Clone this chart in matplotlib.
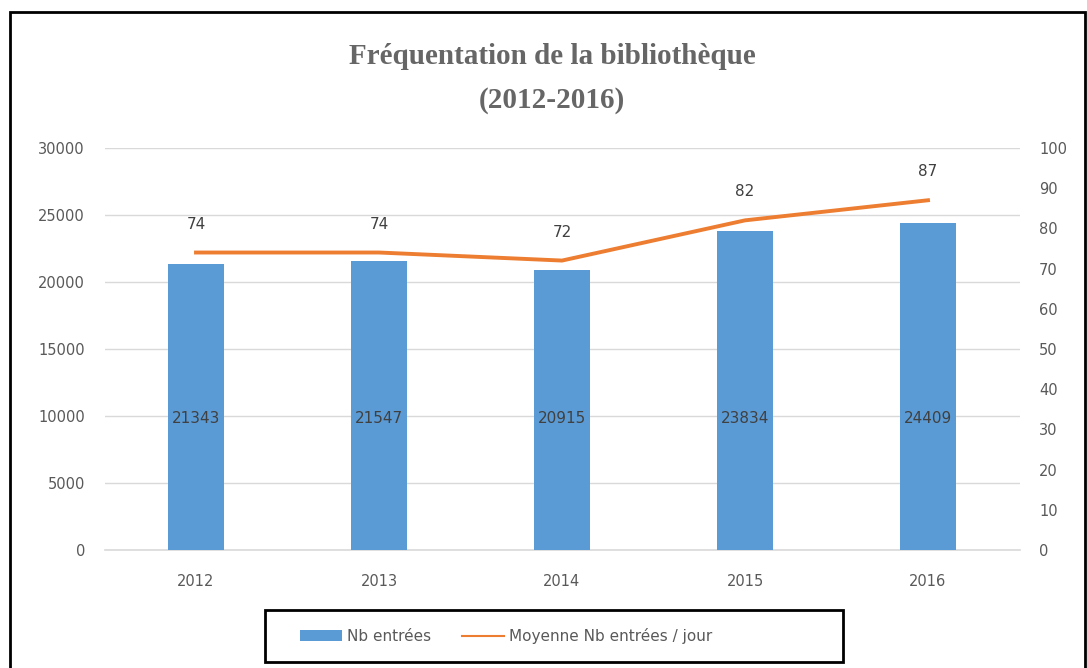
import matplotlib
matplotlib.use("Agg")
import matplotlib.pyplot as plt
from matplotlib.patches import Rectangle

years = ["2012", "2013", "2014", "2015", "2016"]
entrees = [21343, 21547, 20915, 23834, 24409]
moyenne = [74, 74, 72, 82, 87]
bar_labels = ["21343", "21547", "20915", "23834", "24409"]

fig = plt.figure(figsize=(10.87, 6.68), dpi=100)
ax = fig.add_axes([104.5/1087, 1-550/668, (1019.5-104.5)/1087, (550-148)/668])
ax2 = ax.twinx()

x = list(range(len(years)))
bars = ax.bar(x, entrees, width=0.31, color="#5B9BD5", zorder=3, label="Nb entrées")
line, = ax2.plot(x, moyenne, color="#ED7D31", lw=2.8, zorder=4, label="Moyenne Nb entrées / jour")

ax.set_xlim(-0.5, 4.5)
ax.set_ylim(0, 30000)
ax2.set_ylim(0, 100)
ax.set_yticks(range(0, 30001, 5000))
ax2.set_yticks(range(0, 101, 10))
ax.set_xticks(x)
ax.set_xticklabels(years)
ax.grid(axis="y", color="#d9d9d9", lw=1, zorder=0)
ax.axhline(0, color="#d9d9d9", lw=1.2, zorder=2, clip_on=False)
for a in (ax, ax2):
    for s in a.spines.values():
        s.set_visible(False)
    a.tick_params(length=0, colors="#595959", labelsize=10.5)
ax.tick_params(axis="y", pad=14)
ax2.tick_params(axis="y", pad=14)
ax.tick_params(axis="x", pad=17)
ax.set_axisbelow(True)

for xi, lab in zip(x, bar_labels):
    ax.text(xi, 9850, lab, ha="center", va="center", fontsize=11, color="#404040", zorder=5)
for xi, v in zip(x, moyenne):
    ax2.annotate(str(v), (xi, v), xytext=(0, 20.5), textcoords="offset points",
                 ha="center", va="center", fontsize=11, color="#404040")

fig.text(552/1087, 1-57/668, "Fréquentation de la bibliothèque", ha="center", va="center",
         fontsize=21, family="Liberation Serif", color="#666666", fontweight="bold")
fig.text(552/1087, 1-100/668, "(2012-2016)", ha="center", va="center",
         fontsize=21, family="Liberation Serif", color="#666666", fontweight="bold")

leg = fig.legend(handles=[bars, line], loc="center", bbox_to_anchor=(506/1087, 1-636/668),
                 ncol=2, frameon=False, fontsize=11, handlelength=2.75, columnspacing=2.0,
                 handletextpad=0.35, borderaxespad=0, borderpad=0)
for t in leg.get_texts():
    t.set_color("#595959")
for ln in leg.get_lines():
    ln.set_linewidth(1.5)

fig.patches.append(Rectangle((265/1087, 1-662/668), (843-265)/1087, 52/668, transform=fig.transFigure,
                             fill=False, edgecolor="black", lw=2))
fig.patches.append(Rectangle((10/1087, -0.05), 1075/1087, 1.05 - 12/668, transform=fig.transFigure,
                             fill=False, edgecolor="black", lw=2))

fig.savefig("out.png", dpi=100)
